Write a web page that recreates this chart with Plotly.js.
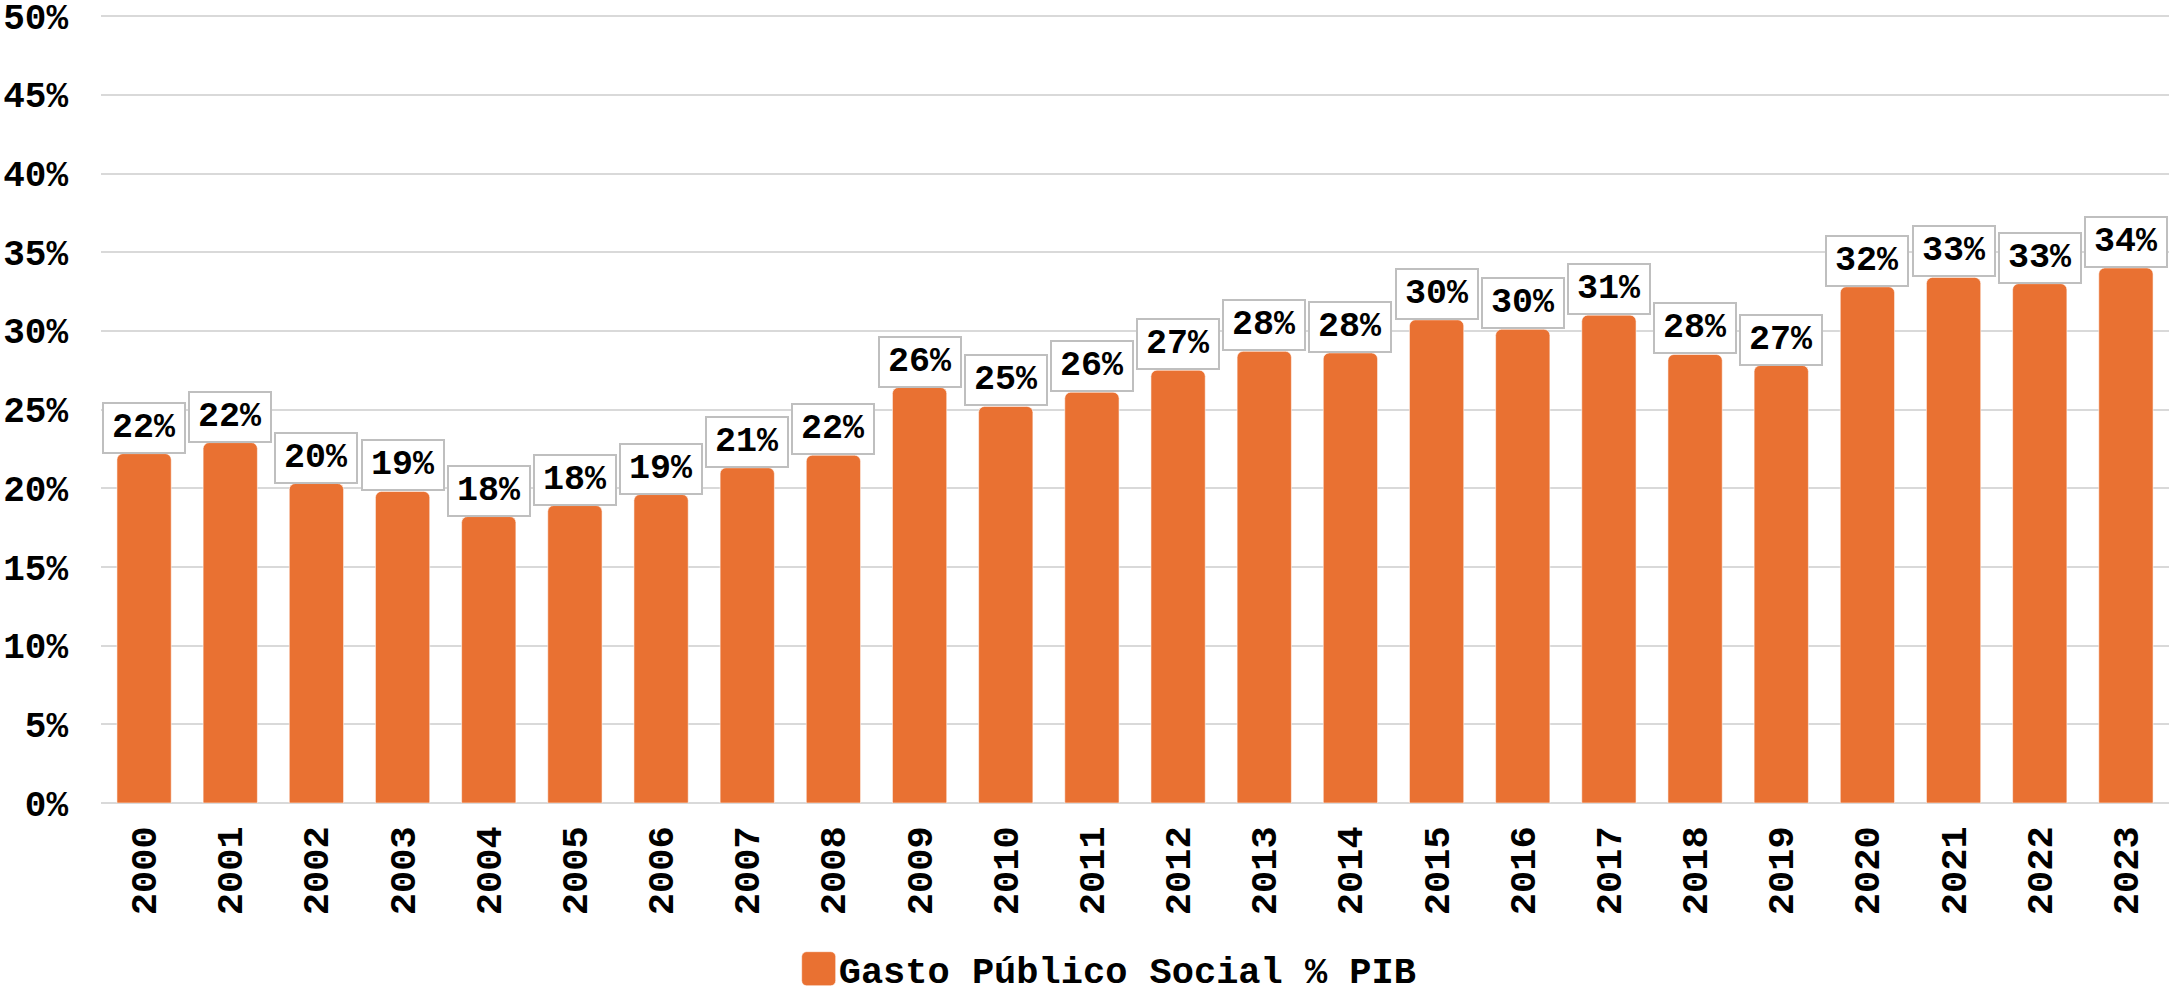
<!DOCTYPE html>
<html>
<head>
<meta charset="utf-8">
<script src="https://cdn.plot.ly/plotly-3.0.1.min.js"></script>
<style>
html, body { margin: 0; padding: 0; background: #ffffff; }
#chart { width: 2169px; height: 994px; }
</style>
</head>
<body>
<div id="chart"></div>
<script>
// ---- Data ----
const years = ["2000","2001","2002","2003","2004","2005","2006","2007","2008","2009","2010","2011",
               "2012","2013","2014","2015","2016","2017","2018","2019","2020","2021","2022","2023"];
const gastoSocialPIB = [22.2, 22.9, 20.3, 19.8, 18.2, 18.9, 19.6, 21.3, 22.1, 26.4, 25.2, 26.1,
                        27.5, 28.7, 28.6, 30.7, 30.1, 31.0, 28.5, 27.8, 32.8, 33.4, 33.0, 34.0];
const dataLabels = ["22%","22%","20%","19%","18%","18%","19%","21%","22%","26%","25%","26%",
                    "27%","28%","28%","30%","30%","31%","28%","27%","32%","33%","33%","34%"];
const yTickValues = [0, 5, 10, 15, 20, 25, 30, 35, 40, 45, 50];
const yTickLabels = ["0%","5%","10%","15%","20%","25%","30%","35%","40%","45%","50%"];
const seriesName = "Gasto Público Social % PIB";

// ---- Styling ----
const FONT = "'Liberation Mono', 'Courier New', monospace";
const ORANGE = "#E97132";
const GRID = "#d9d9d9";

const trace = {
  type: "bar",
  x: years,
  y: gastoSocialPIB,
  name: seriesName,
  marker: { color: ORANGE, cornerradius: 6, line: { color: "rgba(255,255,255,0.55)", width: 1 } },
  hoverinfo: "x+y",
  showlegend: true
};

// boxed data labels; x given as the category index so numeric-looking years
// are not mistaken for positions
const annotations = years.map((yr, i) => ({
  x: i,
  y: gastoSocialPIB[i],
  xref: "x",
  yref: "y",
  text: dataLabels[i],
  showarrow: false,
  yanchor: "bottom",
  xanchor: "center",
  font: { family: FONT, size: 35, color: "#000000", weight: 700 },
  bgcolor: "#ffffff",
  bordercolor: "#bfbfbf",
  borderwidth: 2,
  borderpad: 1,
  width: 78,
  height: 46
}));

const layout = {
  width: 2169,
  height: 994,
  margin: { l: 101, r: 0, t: 13, b: 191, pad: 0 },
  paper_bgcolor: "#ffffff",
  plot_bgcolor: "#ffffff",
  bargap: 0.37,
  font: { family: FONT, size: 35, color: "#000000", weight: 700 },
  xaxis: {
    type: "category",
    range: [-0.5, years.length - 0.5],
    tickangle: -90,
    showgrid: false,
    zeroline: false,
    showline: false,
    ticks: "",
    ticklabelstandoff: 15,
    tickfont: { family: FONT, size: 37, color: "#000000", weight: 700 }
  },
  yaxis: {
    range: [0, 50.2],
    tickvals: yTickValues,
    ticktext: yTickLabels,
    showgrid: true,
    gridcolor: GRID,
    gridwidth: 2,
    zeroline: true,
    zerolinecolor: GRID,
    zerolinewidth: 2,
    showline: false,
    ticks: "",
    ticklabelstandoff: 32,
    ticklabeloverflow: "allow",
    tickfont: { family: FONT, size: 36, color: "#000000", weight: 700 }
  },
  showlegend: true,
  legend: {
    orientation: "h",
    xref: "paper",
    x: 0.488,
    xanchor: "center",
    yref: "container",
    y: 0.025,
    yanchor: "middle",
    font: { family: FONT, size: 37, color: "#000000", weight: 700 },
    bgcolor: "rgba(0,0,0,0)"
  },
  annotations: annotations
};

Plotly.newPlot("chart", [trace], layout, { displayModeBar: false, staticPlot: true }).then(function () {
  // enlarge the legend swatch to match the reference's big rounded square
  const p = document.querySelector(".legend .legendpoints path");
  if (p) {
    p.setAttribute("d", "M-12,-17H12A5,5 0 0 1 17,-12V12A5,5 0 0 1 12,17H-12A5,5 0 0 1 -17,12V-12A5,5 0 0 1 -12,-17Z");
  }
});
</script>
</body>
</html>
